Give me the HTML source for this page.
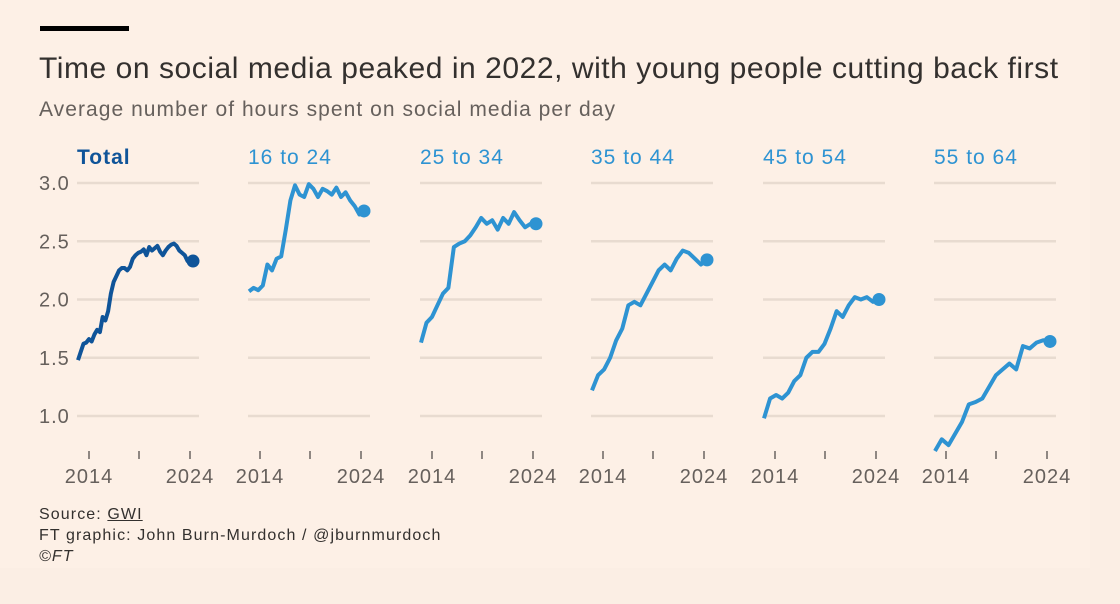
<!DOCTYPE html>
<html><head><meta charset="utf-8"><style>
body{margin:0;background:#fbeee4;}
#w{position:relative;width:1120px;height:604px;overflow:hidden;background:#fbeee4;font-family:"Liberation Sans",sans-serif;}
#p{position:absolute;left:0;top:0;width:1090px;height:568px;background:#fdf0e6;}
.t{position:absolute;white-space:nowrap;}
</style></head><body><div id="w"><div id="p"></div>
<div style="position:absolute;left:40px;top:26px;width:89px;height:5px;background:#000"></div>
<div class="t" style="left:39px;top:52px;font-size:30px;letter-spacing:0.55px;color:#33302e">Time on social media peaked in 2022, with young people cutting back first</div>
<div class="t" style="left:39px;top:98px;font-size:21px;letter-spacing:1.05px;color:#66605c">Average number of hours spent on social media per day</div>
<div class="t" style="left:39px;top:504px;font-size:16px;letter-spacing:1.1px;color:#33302e;line-height:21px">Source: <span style="text-decoration:underline">GWI</span><br>FT graphic: John Burn-Murdoch / @jburnmurdoch<br><i>©FT</i></div>
<svg id="s" width="1120" height="604" style="position:absolute;left:0;top:0"></svg>
</div>
<script>
const Y=v=>416-(v-1)*116.5;
const P=[77,248,420,591,763,934];
const names=["Total","16 to 24","25 to 34","35 to 44","45 to 54","55 to 64"];
const D=[
[1.48,1.55,1.62,1.63,1.66,1.64,1.70,1.74,1.72,1.85,1.82,1.90,2.05,2.15,2.20,2.25,2.27,2.27,2.25,2.28,2.35,2.38,2.40,2.41,2.43,2.38,2.45,2.42,2.44,2.46,2.41,2.38,2.42,2.45,2.47,2.48,2.46,2.42,2.40,2.38,2.33,2.35,2.33],
[2.07,2.10,2.08,2.12,2.30,2.25,2.35,2.37,2.6,2.85,2.98,2.90,2.88,2.99,2.95,2.88,2.95,2.93,2.90,2.96,2.88,2.92,2.85,2.80,2.73,2.76],
[1.63,1.80,1.85,1.95,2.05,2.10,2.45,2.48,2.50,2.55,2.62,2.70,2.65,2.68,2.60,2.70,2.65,2.75,2.68,2.62,2.65,2.65],
[1.22,1.35,1.40,1.50,1.65,1.75,1.95,1.98,1.95,2.05,2.15,2.25,2.30,2.25,2.35,2.42,2.40,2.35,2.30,2.34],
[0.98,1.15,1.18,1.15,1.20,1.30,1.35,1.50,1.55,1.55,1.62,1.75,1.90,1.85,1.95,2.02,2.00,2.02,1.98,2.00],
[0.70,0.80,0.75,0.85,0.95,1.10,1.12,1.15,1.25,1.35,1.40,1.45,1.40,1.60,1.58,1.63,1.65,1.64]];
let h='';
P.forEach((x0,i)=>{
 const c=i?'#2e93d2':'#0f5499';
 h+=`<text x="${x0}" y="164" font-size="21" letter-spacing="1" fill="${c}" font-weight="${i?400:700}" font-family="Liberation Sans">${names[i]}</text>`;
 [1,1.5,2,2.5,3].forEach(v=>h+=`<line x1="${x0}" x2="${x0+122}" y1="${Y(v)}" y2="${Y(v)}" stroke="#e8dbd0" stroke-width="2.5"/>`);
 [12,62,113].forEach(d=>h+=`<line x1="${x0+d}" x2="${x0+d}" y1="451" y2="459" stroke="#8f8782" stroke-width="2"/>`);
 h+=`<text x="${x0+12}" y="483" font-size="20" letter-spacing="1" fill="#66605c" text-anchor="middle" font-family="Liberation Sans">2014</text>`;
 h+=`<text x="${x0+113}" y="483" font-size="20" letter-spacing="1" fill="#66605c" text-anchor="middle" font-family="Liberation Sans">2024</text>`;
 const d=D[i],n=d.length;
 const pts=d.map((v,k)=>[x0+1+k*115/(n-1),Y(v)]);
 h+=`<polyline points="${pts.map(p=>p.join(',')).join(' ')}" fill="none" stroke="${c}" stroke-width="4" stroke-linejoin="round"/>`;
 const l=pts[n-1];h+=`<circle cx="${l[0]}" cy="${l[1]}" r="6.5" fill="${c}"/>`;
});
[[1,"1.0"],[1.5,"1.5"],[2,"2.0"],[2.5,"2.5"],[3,"3.0"]].forEach(([v,t])=>h+=`<text x="39" y="${Y(v)+7}" font-size="20" letter-spacing="1" fill="#66605c" font-family="Liberation Sans">${t}</text>`);
document.getElementById('s').innerHTML=h;
</script></body></html>
